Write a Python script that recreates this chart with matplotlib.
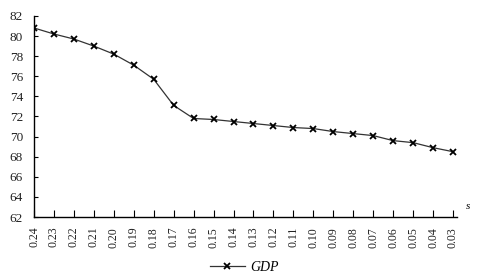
import matplotlib
matplotlib.use("Agg")
import matplotlib.pyplot as plt

plt.rcParams["font.family"] = ["Liberation Serif", "DejaVu Serif"]

s_labels = ["0.24", "0.23", "0.22", "0.21", "0.20", "0.19", "0.18", "0.17",
            "0.16", "0.15", "0.14", "0.13", "0.12", "0.11", "0.10", "0.09",
            "0.08", "0.07", "0.06", "0.05", "0.04", "0.03"]
gdp = [80.8, 80.2, 79.7, 79.0, 78.2, 77.1, 75.7, 73.1,
       71.8, 71.7, 71.5, 71.3, 71.1, 70.9, 70.8, 70.5,
       70.3, 70.1, 69.6, 69.4, 68.9, 68.5]

fig = plt.figure(figsize=(4.79, 2.79), dpi=100)
ax = fig.add_axes([0.071, 0.222, 0.883, 0.721])

x = range(len(gdp))
ax.plot(x, gdp, color="#333333", linewidth=0.9, marker="x",
        markersize=5, markeredgewidth=1.3, markeredgecolor="black",
        label="GDP")

ax.set_ylim(62, 82)
ax.set_yticks(range(62, 83, 2))
ax.set_xlim(0, len(gdp) - 1 + 0.2)
ax.set_xticks(list(x))
ax.set_xticklabels(s_labels, rotation=90, fontsize=8.5)
ax.tick_params(axis="y", direction="in", length=3, labelsize=9.5, pad=8,
               labelcolor="#222222")
ax.tick_params(axis="x", direction="in", length=5, pad=7,
               labelcolor="#222222")

for side in ["top", "right"]:
    ax.spines[side].set_visible(False)
for side in ["left", "bottom"]:
    ax.spines[side].set_linewidth(1.0)

ax.text(1.02, 0.03, "s", transform=ax.transAxes, fontsize=8,
        style="italic", ha="left", va="bottom")

leg = fig.legend(loc="center", bbox_to_anchor=(0.51, 0.04), frameon=False,
                 prop={"style": "italic", "size": 10}, handlelength=2.5,
                 handletextpad=0.4)

fig.savefig("out.png", dpi=100)
